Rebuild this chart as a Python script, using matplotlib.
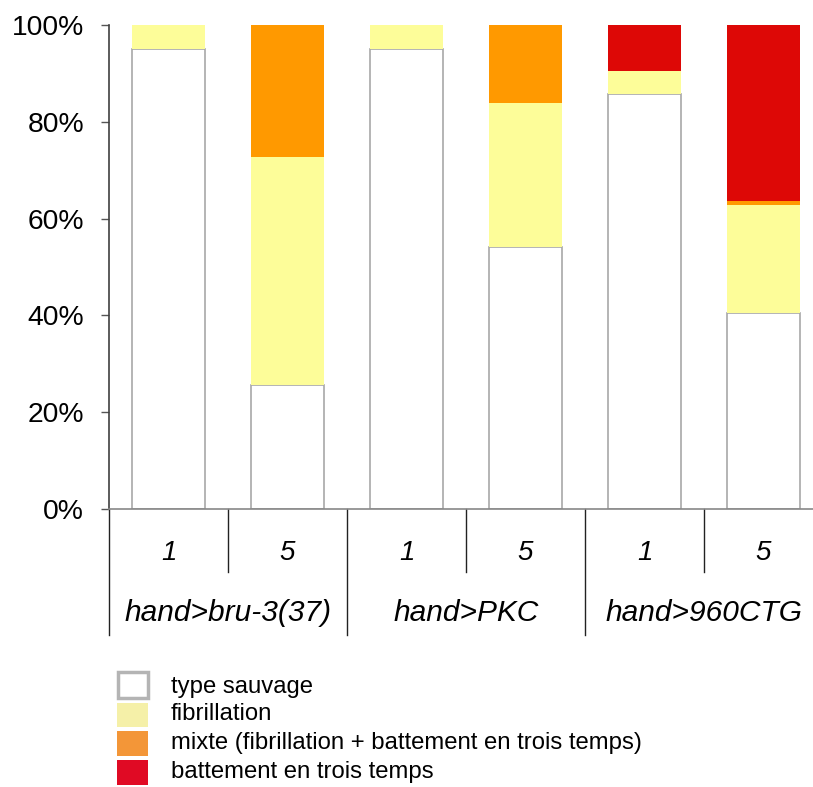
import matplotlib
matplotlib.use("Agg")
import matplotlib.pyplot as plt
from matplotlib.patches import Rectangle
import numpy as np

plt.rcParams['font.family'] = ['Liberation Sans', 'DejaVu Sans']

# Stacked percentages per bar (group x dose)
groups = ["hand>bru-3(37)", "hand>PKC", "hand>960CTG"]
doses = ["1", "5", "1", "5", "1", "5"]
sauvage = [95.0, 25.6, 95.0, 54.1, 85.7, 40.5]
fibrillation = [5.0, 47.1, 5.0, 29.8, 4.8, 22.3]
mixte = [0.0, 27.3, 0.0, 16.1, 0.0, 0.8]
trois_temps = [0.0, 0.0, 0.0, 0.0, 9.5, 36.4]

legend_labels = ["type sauvage", "fibrillation",
                 "mixte (fibrillation + battement en trois temps)",
                 "battement en trois temps"]
bar_colors = ["#ffffff", "#fdfd99", "#ff9900", "#dd0806"]
legend_colors = ["#ffffff", "#f5f0a8", "#f39638", "#e00a24"]
yticks = [0, 20, 40, 60, 80, 100]

W, H = 813, 787
fig = plt.figure(figsize=(W / 100, H / 100), dpi=100)
ax_left, ax_right, ax_top, ax_bottom = 109, 813, 25, 509
ax = fig.add_axes([ax_left / W, 1 - ax_bottom / H,
                   (ax_right - ax_left) / W, (ax_bottom - ax_top) / H])

x = np.arange(len(doses))
width = 0.62
series = [sauvage, fibrillation, mixte, trois_temps]
bottom = np.zeros(len(doses))
for i, vals in enumerate(series):
    vals = np.array(vals)
    if i == 0:
        ax.bar(x, vals, width, bottom=bottom, color=bar_colors[i],
               edgecolor="#a8a8a8", linewidth=1.2, zorder=2)
    else:
        ax.bar(x, vals, width, bottom=bottom, color=bar_colors[i],
               linewidth=0, zorder=2)
    bottom += vals

ax.set_ylim(0, 100)
unit = 119
ax.set_xlim(-0.5, -0.5 + (ax_right - ax_left) / unit)
ax.set_yticks(yticks)
ax.set_yticklabels([f"{t}%" for t in yticks], fontsize=20.3)
ax.tick_params(axis="y", direction="out", length=6, width=1, color="#555555",
               pad=12)
ax.set_xticks([])
for s in ["top", "right"]:
    ax.spines[s].set_visible(False)
ax.spines["left"].set_color("#404040")
ax.spines["left"].set_linewidth(1.2)
ax.spines["bottom"].set_color("#888888")
ax.spines["bottom"].set_linewidth(1.2)

# Category separators below the axis
trans = ax.get_xaxis_transform()
axh = ax_bottom - ax_top
short_end = -(572 - ax_bottom) / axh
long_end = -(635 - ax_bottom) / axh
for k in range(len(doses)):
    xs = k - 0.5
    end = long_end if k % 2 == 0 else short_end
    ax.plot([xs, xs], [0, end], transform=trans, color="#222222",
            lw=1.0, clip_on=False)

for k, d in enumerate(doses):
    ax.text(k, -(553 - ax_bottom) / axh, d, transform=trans, ha="center",
            va="center", fontsize=20, style="italic")
for g, name in enumerate(groups):
    ax.text(2 * g + 0.5, -(613 - ax_bottom) / axh, name, transform=trans,
            ha="center", va="center", fontsize=21.5, style="italic")

# Legend drawn in figure pixels
boxes = [(672, 698), (703, 727), (731, 756), (760, 785)]
rows = [687, 714, 743, 772]
for i, (lab, col) in enumerate(zip(legend_labels, legend_colors)):
    y0, y1 = boxes[i]
    if i == 0:
        r = Rectangle((118 / W, 1 - y1 / H), 30 / W, (y1 - y0) / H,
                      transform=fig.transFigure, facecolor=col,
                      edgecolor="#b4b4b4", linewidth=2.5)
    else:
        r = Rectangle((117 / W, 1 - y1 / H), 31 / W, (y1 - y0) / H,
                      transform=fig.transFigure, facecolor=col,
                      edgecolor="none")
    fig.add_artist(r)
    fig.text(171 / W, 1 - rows[i] / H, lab, fontsize=17.2, va="center",
             ha="left")

fig.savefig("out.png", dpi=100)
